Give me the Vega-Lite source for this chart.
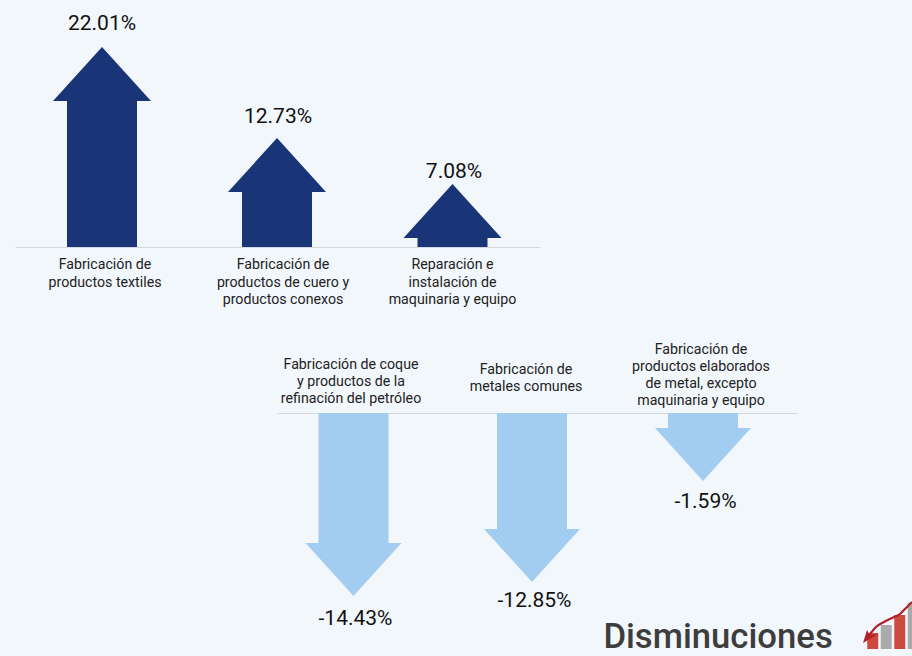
{
"$schema":"https://vega.github.io/schema/vega-lite/v6.json",
"width":912,"height":656,"padding":0,"autosize":{"type":"none"},
"background":"#f2f7fc",
"view":{"stroke":null},
"config":{"font":"Roboto"},
"title":{"text":"Disminuciones","orient":"bottom","anchor":"end","baseline":"middle","offset":0,"dx":-86,"dy":-18,"font":"Roboto","fontSize":34.7,"fontWeight":500,"color":"#3d3d3d"},
"datasets":{
"suben":[
{"sector":"Fabricación de\nproductos textiles","pct":22.01,"etiqueta":"22.01%","orden":1},
{"sector":"Fabricación de\nproductos de cuero y\nproductos conexos","pct":12.73,"etiqueta":"12.73%","orden":2},
{"sector":"Reparación e\ninstalación de\nmaquinaria y equipo","pct":7.08,"etiqueta":"7.08%","orden":3}],
"bajan":[
{"sector":"Fabricación de coque\ny productos  de la\nrefinación del petróleo","pct":-14.43,"etiqueta":"-14.43%","orden":1},
{"sector":"Fabricación de\nmetales comunes","pct":-12.85,"etiqueta":"-12.85%","orden":2},
{"sector":"Fabricación de\nproductos elaborados\nde metal, excepto\nmaquinaria y equipo","pct":-1.59,"etiqueta":"-1.59%","orden":3}],
"barras":[{"b":"a","v":16,"c":"r"},{"b":"b","v":24,"c":"g"},{"b":"c","v":34,"c":"r"},{"b":"d","v":46,"c":"g"}],
"curva":[{"a":50,"h":47},{"a":44,"h":41},{"a":38,"h":35},{"a":30,"h":31},{"a":22,"h":27},{"a":14,"h":22},{"a":8,"h":15},{"a":4,"h":10}],
"punta":[{"a":1,"h":6}]
},
"layer":[
{"data":{"name":"suben"},
 "encoding":{
  "x":{"field":"orden","type":"quantitative","axis":null,"scale":{"domain":[1,2,3],"range":[102,277,452.5],"padding":0}},
  "y":{"field":"pct","type":"quantitative","axis":null,"scale":{"domain":[0,7.08,12.73,22.01],"range":[247,184,138,47]}}},
 "layer":[
  {"mark":{"type":"bar","size":70,"color":"#1a3577","yOffset":53.5,"clip":false},"encoding":{"y2":{"datum":0}}},
  {"mark":{"type":"point","shape":"M0,0L0.98,1.08L-0.98,1.08Z","size":10000,"filled":true,"opacity":1,"strokeWidth":0,"color":"#1a3577"}}
 ]},
{"data":{"name":"suben"},
 "mark":{"type":"text","fontSize":21,"color":"#111111","font":"Roboto","baseline":"middle"},
 "encoding":{
  "x":{"field":"orden","type":"quantitative","axis":null,"scale":{"domain":[1,2,3],"range":[102,278,454],"padding":0}},
  "y":{"field":"pct","type":"quantitative","axis":null,"scale":{"domain":[0,7.08,12.73,22.01],"range":[200,172,117,24]}},
  "text":{"field":"etiqueta","type":"nominal"}}},
{"data":{"name":"suben"},
 "mark":{"type":"point","opacity":0},
 "encoding":{
  "x":{"field":"sector","type":"nominal","sort":null,"title":null,"scale":{"type":"band","range":[15,540],"paddingInner":0,"paddingOuter":0},
   "axis":{"orient":"bottom","offset":-409,"ticks":false,"grid":false,"domainColor":"#d3d8dd","domainWidth":1,"labelAngle":0,"labelFontSize":14.2,"labelColor":"#222222","labelFont":"Roboto","labelLimit":0,"labelPadding":10.5,"labelLineHeight":17.5,"labelBaseline":"top","labelAlign":"center","labelExpr":"split(datum.label,'\\n')",
    "labelOffset":{"condition":[{"test":"indexof(datum.value,'textiles')>=0","value":2.5},{"test":"indexof(datum.value,'cuero')>=0","value":5.5}],"value":0}}}}},
{"data":{"name":"bajan"},
 "encoding":{
  "x":{"field":"orden","type":"quantitative","axis":null,"scale":{"domain":[1,2,3],"range":[353.5,532,703],"padding":0}},
  "y":{"field":"pct","type":"quantitative","axis":null,"scale":{"domain":[-14.43,-12.85,-1.59,0],"range":[596,582,481,413]}}},
 "layer":[
  {"mark":{"type":"bar","size":70,"color":"#a3cdf0","yOffset":-52.5,"clip":false},"encoding":{"y2":{"datum":0}}},
  {"mark":{"type":"point","shape":"M0,0L0.96,-1.06L-0.96,-1.06Z","size":10000,"filled":true,"opacity":1,"strokeWidth":0,"color":"#a3cdf0"}}
 ]},
{"data":{"name":"bajan"},
 "mark":{"type":"text","fontSize":21,"color":"#111111","font":"Roboto","baseline":"middle"},
 "encoding":{
  "x":{"field":"orden","type":"quantitative","axis":null,"scale":{"domain":[1,2,3],"range":[355.5,534.5,705.5],"padding":0}},
  "y":{"field":"pct","type":"quantitative","axis":null,"scale":{"domain":[-14.43,-12.85,-1.59,0],"range":[619,601,502,481]}},
  "text":{"field":"etiqueta","type":"nominal"}}},
{"data":{"name":"bajan"},
 "mark":{"type":"point","opacity":0},
 "encoding":{
  "x":{"field":"sector","type":"nominal","sort":null,"title":null,"scale":{"type":"band","range":[277,797],"paddingInner":0.5,"paddingOuter":0.2357,"align":0.367},
   "axis":{"orient":"top","offset":-413,"ticks":false,"grid":false,"domainColor":"#d3d8dd","domainWidth":1,"labelAngle":0,"labelFontSize":14.2,"labelColor":"#222222","labelFont":"Roboto","labelLimit":0,"labelLineHeight":17.3,"labelBaseline":"middle","labelAlign":"center","labelExpr":"split(datum.label,'\\n')",
    "labelPadding":{"condition":[{"test":"indexof(datum.value,'metales')>=0","value":44},{"test":"indexof(datum.value,'elaborados')>=0","value":64}],"value":49}}}}},
{"data":{"name":"barras"},
 "mark":{"type":"bar","size":11,"clip":false},
 "encoding":{
  "x":{"field":"b","type":"nominal","axis":null,"scale":{"type":"band","range":[866,920],"paddingInner":0,"paddingOuter":0}},
  "y":{"field":"v","type":"quantitative","axis":null,"scale":{"domain":[0,46],"range":[649,603]}},
  "color":{"field":"c","type":"nominal","legend":null,"scale":{"domain":["r","g"],"range":["#cd4a3f","#aaaaaa"]}}}},
{"data":{"name":"curva"},
 "mark":{"type":"line","color":"#b0202a","strokeWidth":2.2,"interpolate":"monotone","clip":false},
 "encoding":{
  "x":{"field":"a","type":"quantitative","axis":null,"scale":{"domain":[0,50],"range":[862,912]}},
  "y":{"field":"h","type":"quantitative","axis":null,"scale":{"domain":[0,46],"range":[649,603]}}}},
{"data":{"name":"punta"},
 "mark":{"type":"point","shape":"M0,0L0.4,-1.3L0.7,-0.75L1.5,-0.9Z","size":400,"filled":true,"opacity":1,"strokeWidth":0,"color":"#b0202a","clip":false},
 "encoding":{
  "x":{"field":"a","type":"quantitative","axis":null,"scale":{"domain":[0,50],"range":[862,912]}},
  "y":{"field":"h","type":"quantitative","axis":null,"scale":{"domain":[0,46],"range":[649,603]}}}}
],
"resolve":{"scale":{"x":"independent","y":"independent","color":"independent"},"axis":{"x":"independent","y":"independent"}}
}
